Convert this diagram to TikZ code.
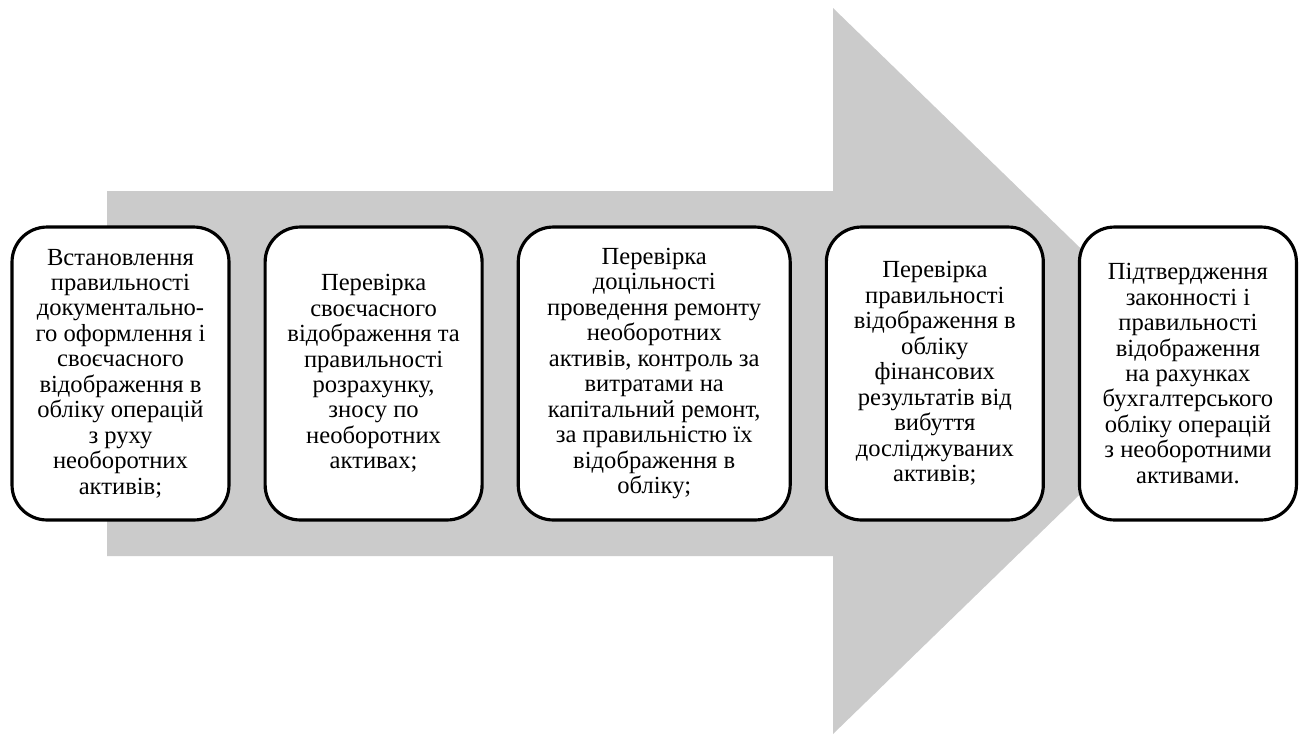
\documentclass[tikz,border=0pt]{standalone}
\usepackage{fontspec}
\setmainfont{Liberation Serif}
\usepackage{xcolor}
\usepackage{tikz}
\usetikzlibrary{positioning}

\definecolor{arrowgray}{RGB}{203,203,203}

\begin{document}
\begin{tikzpicture}[x=0.02cm,y=-0.02cm]
    \tikzstyle{every node}=[draw=black,line width=1.8pt,fill=white,rounded corners=0.7cm,node distance=0.66cm]
    \tikzstyle{stepbox}=[minimum width=4.34cm,minimum height=5.86cm,align=center,inner sep=1pt,
                         font=\fontsize{14}{14.5}\selectfont]

    \useasboundingbox (0,0) rectangle (1301,735);

    % big grey arrow behind the boxes
    \fill[arrowgray] (107,191) -- (833,191) -- (833,8) -- (1207,371)
                     -- (833,734) -- (833,556) -- (107,556) -- cycle;

    \node[stepbox] (docs) at (120.5,373.5) {Встановлення\\правильності\\документально-\\го оформлення і\\своєчасного\\відображення в\\обліку операцій\\з руху\\необоротних\\активів;};

    \node[stepbox,right=of docs] (wear) {Перевірка\\своєчасного\\відображення та\\правильності\\розрахунку,\\зносу по\\необоротних\\активах;};

    \node[stepbox,right=of wear,minimum width=5.44cm] (repair) {Перевірка\\доцільності\\проведення ремонту\\необоротних\\активів, контроль за\\витратами на\\капітальний ремонт,\\за правильністю їх\\відображення в\\обліку;};

    \node[stepbox,right=of repair] (disposal) {Перевірка\\правильності\\відображення в\\обліку\\фінансових\\результатів від\\вибуття\\досліджуваних\\активів;};

    \node[stepbox,right=of disposal,node distance=0.72cm] (accounts) {Підтвердження\\законності і\\правильності\\відображення\\на рахунках\\бухгалтерського\\обліку операцій\\з необоротними\\активами.};

\end{tikzpicture}
\end{document}
